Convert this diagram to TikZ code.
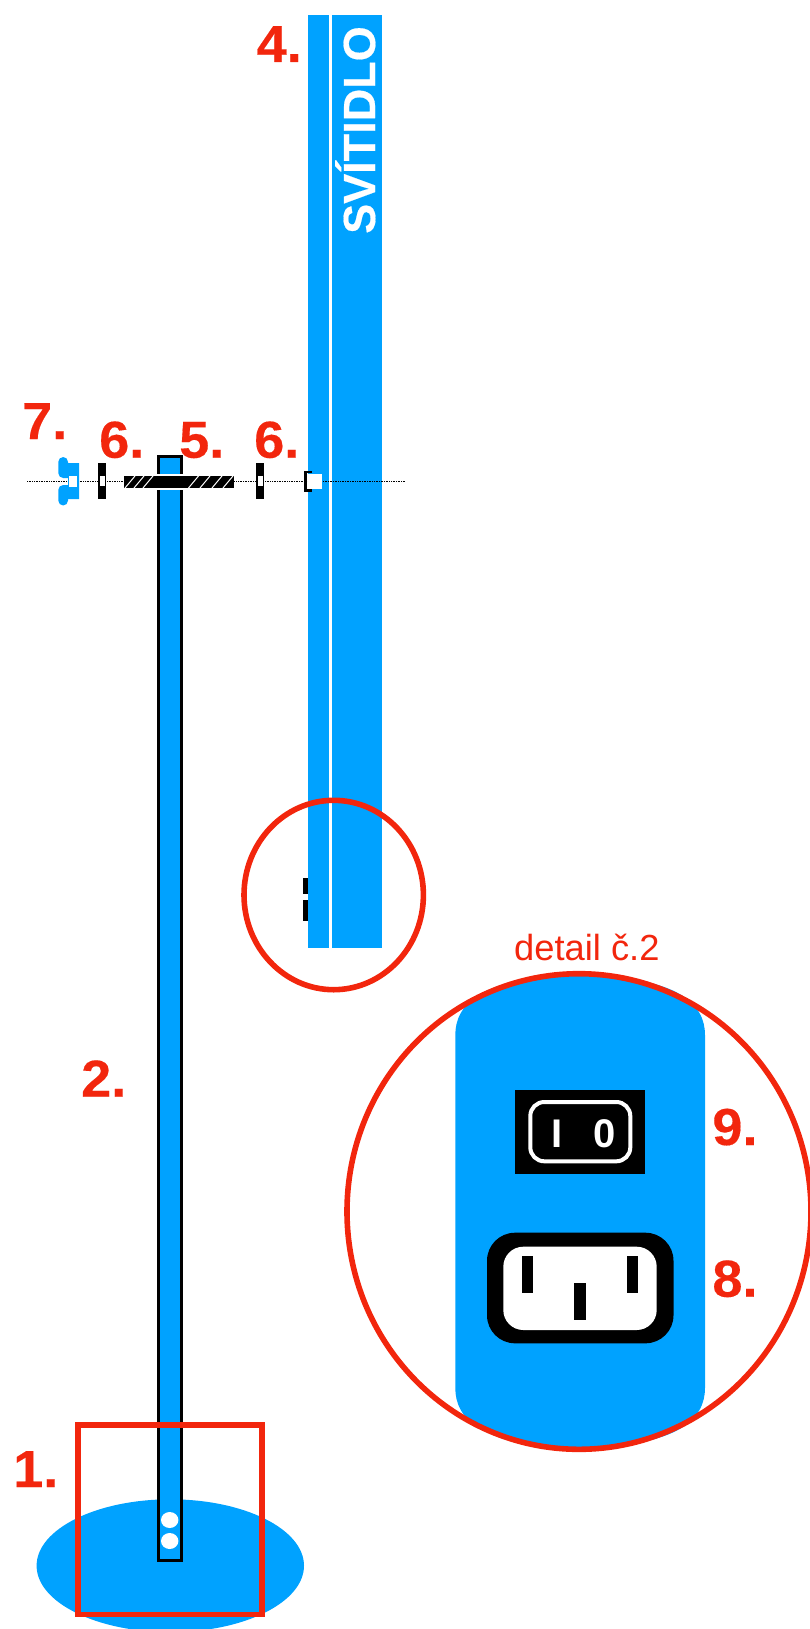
\documentclass[tikz,border=0pt]{standalone}
\usepackage{fontspec}
\setmainfont{Liberation Sans}
\newfontfamily\numfont[FakeStretch=1.04,FakeBold=.3]{Liberation Sans}
\newfontfamily\lampfont[FakeBold=.4]{Liberation Sans}
\definecolor{lampblue}{HTML}{00A2FF}
\definecolor{markred}{HTML}{F2260D}

\begin{document}
\begin{tikzpicture}[x=1pt,y=-1pt,
	num/.style = {anchor=base west, inner sep=0pt, text=markred, font=\fontsize{52}{52}\numfont\bfseries},
	bluepart/.style = {fill=lampblue, draw=none},
	inkpart/.style = {fill=black, draw=none},
	hole/.style = {fill=white, draw=none},
	ring/.style = {draw=markred, line width=5.6pt},
	hatch/.style = {draw=white, line width=1pt}]
	\useasboundingbox (0,0) rectangle (809,1629);
	% stand
	\draw[bluepart] (170.3,1565.7) ellipse (133.7 and 66.4);
	\draw[fill=lampblue, draw=black, line width=2.8pt] (158.4,456.4) rectangle (181.6,1560.6);
	\draw[hole] (169.7,1520) ellipse (8.7 and 8);
	\draw[hole] (169.7,1541) ellipse (8.7 and 8);
	% lamp
	\draw[bluepart] (308,15) rectangle (382,948);
	\draw[hole] (329,15) rectangle (332,948);
	\node[anchor=base west, inner sep=0pt, rotate=90, text=white, font=\fontsize{45}{45}\lampfont\bfseries] (lamptext) at (375,234) {SVÍTIDLO};
	\draw[inkpart] (303,878) rectangle (308,894);
	\draw[inkpart] (303,900) rectangle (308,921);
	% axis
	\coordinate (axisL) at (27,481.7);
	\coordinate (axisR) at (405,481.7);
	\draw[black, line width=.7pt, densely dotted] (axisL) -- (axisR);
	% plate
	\draw[hole] (150,474) rectangle (190,490);
	\draw[inkpart] (124,476) rectangle (234,488);
	\foreach \x in {130,139,148,193.5,205,217,228}
		\draw[hatch] (\x-5,488) -- (\x+5,476);
	% washers
	\draw[inkpart] (98.3,463) rectangle (106,499);
	\draw[hole] (99.5,475.5) rectangle (105,486);
	\draw[inkpart] (256,463) rectangle (264,499);
	\draw[hole] (257.5,475.5) rectangle (262.7,486);
	% wing nut
	\draw[bluepart] (79,463) -- (63,463) -- (63,478) -- (68,478) -- (68,485) -- (63,485) -- (63,499) -- (79,499) -- cycle;
	\draw[bluepart, rounded corners=4.9pt] (58.3,457) rectangle (68,478);
	\draw[bluepart, rounded corners=4.9pt] (58.3,485) rectangle (68,505.5);
	\draw[hole] (69,476) rectangle (76.7,486.7);
	% bracket
	\draw[black, line width=2.3pt] (311.7,471.8) -- (305.5,471.8) -- (305.5,490.6) -- (311.7,490.6);
	\draw[hole] (308,474) rectangle (322,489);
	% detail body
	\draw[bluepart] (455.3,1035) .. controls (455.3,1005) and (480,976) .. (580,976)
		.. controls (680,976) and (705,1005) .. (705,1035) -- (705,1388)
		.. controls (705,1418) and (680,1447) .. (580,1447)
		.. controls (480,1447) and (455.3,1418) .. (455.3,1388) -- cycle;
	% switch
	\draw[inkpart] (515.3,1090) rectangle (645.3,1174);
	\draw[draw=white, line width=4pt, rounded corners=14pt] (530.3,1102) rectangle (630.3,1161.3);
	\node[inner sep=0pt, text=white, font=\fontsize{40}{40}\selectfont\bfseries] (swon) at (557,1133.8) {I};
	\node[inner sep=0pt, text=white, font=\fontsize{40}{40}\selectfont\bfseries] (swoff) at (605,1133.8) {0};
	% socket
	\draw[inkpart, rounded corners=28pt] (487,1232.7) rectangle (673.5,1343.3);
	\draw[hole, rounded corners=20pt] (503.3,1246.7) rectangle (656.7,1330);
	\draw[inkpart] (522.3,1256) rectangle (533.3,1292.7);
	\draw[inkpart] (627.3,1256) rectangle (638.3,1292.7);
	\draw[inkpart] (574.3,1283) rectangle (585.7,1320);
	% red marks
	\draw[draw=markred, line width=5.8pt] (78.3,1425) rectangle (261.7,1614.5);
	\draw[ring] (333.7,895) ellipse (89.7 and 94.7);
	\draw[ring] (579,1211.5) ellipse (232 and 237.8);
	\node[anchor=base west, inner sep=0pt, text=markred, font=\fontsize{36.3}{36}\selectfont] (det) at (514,960.7) {detail č.2};
	% numbers
	\node[num] (n1) at (13,1487) {1.};
	\node[num] (n2) at (81,1096.7) {2.};
	\node[num] (n4) at (256.5,62) {4.};
	\node[num] (n5) at (179,457.7) {5.};
	\node[num] (n6a) at (99,457.7) {6.};
	\node[num] (n6b) at (254,457.7) {6.};
	\node[num] (n7) at (22,439) {7.};
	\node[num] (n8) at (712.2,1296.7) {8.};
	\node[num] (n9) at (712.2,1145) {9.};
\end{tikzpicture}
\end{document}
